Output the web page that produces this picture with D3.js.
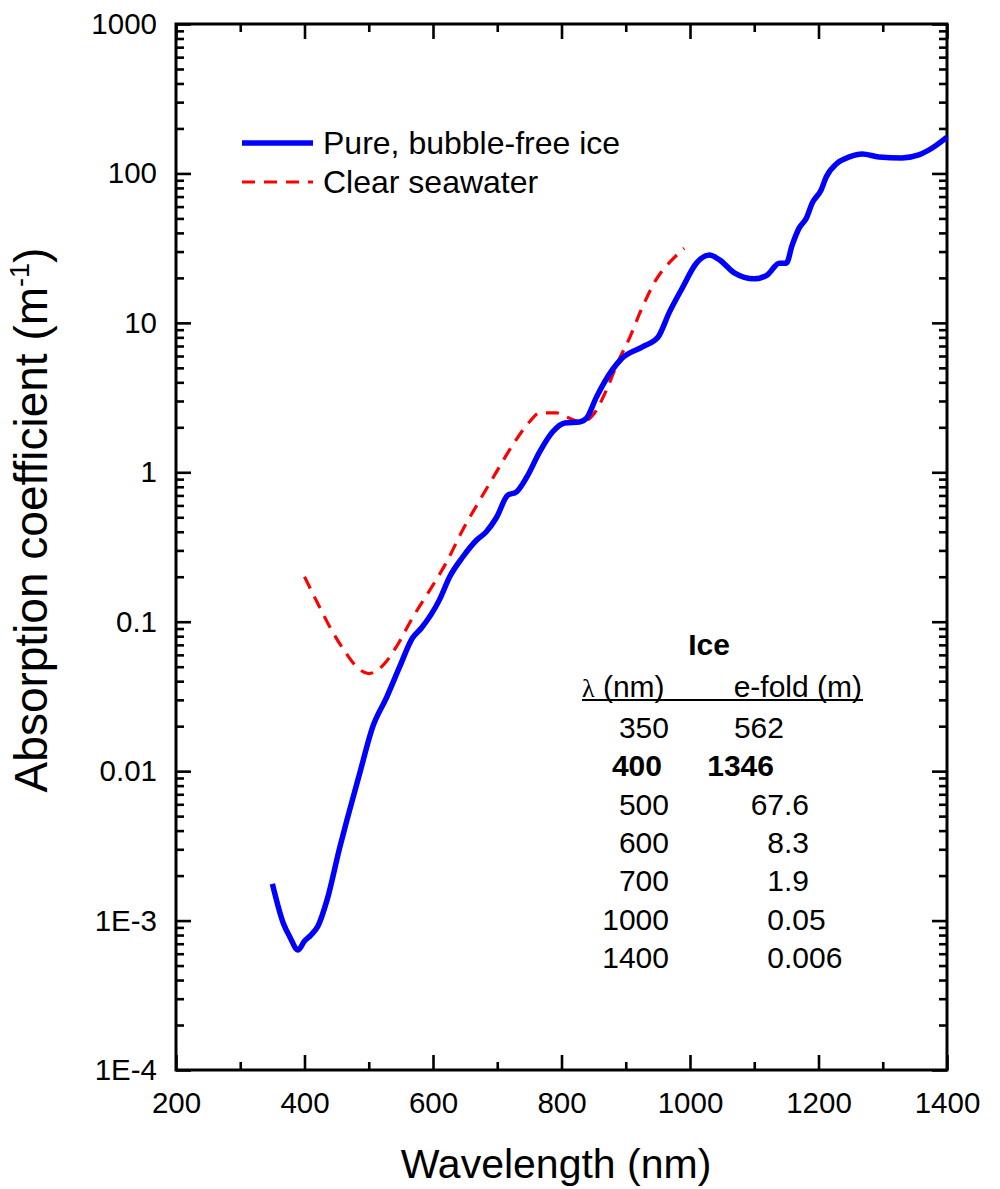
<!DOCTYPE html>
<html lang="en">
    <head>
        <meta charset="utf-8" />
        <title>Absorption coefficient of ice and seawater</title>
        <script src="https://d3js.org/d3.v7.min.js"></script>
        <style>
            html, body { margin:0; padding:0; background-color: #ffffff }
            svg { display:block }
            text { font-family: Arial, "Liberation Sans", sans-serif; fill: #000 }
        </style>
    </head>
    <body>
        <svg id="svg" width="1000" height="1189"></svg>
        <script>

            // pure bubble-free ice
            const iceWave = [350, 367, 377, 390, 400, 410, 421, 435, 455, 466, 486, 506, 528, 548, 568, 582,
                610, 626, 646, 668, 683, 699, 716, 730, 746, 766, 786, 805, 828, 839, 854, 879, 893, 926, 950,
                968, 988, 1010, 1030, 1046, 1069, 1100, 1120, 1139, 1150, 1159, 1170, 1181, 1190, 1204, 1212,
                1229, 1248, 1268, 1294, 1330, 1356, 1377, 1400];
            const iceAbs = [1.76e-3, 9.6e-4, 7.8e-4, 6.35e-4, 7.3e-4, 8.0e-4, 9.2e-4, 1.37e-3, 3.1e-3, 4.7e-3,
                9.7e-3, 0.0197, 0.0313, 0.0498, 0.0778, 0.0908,
                0.14, 0.2, 0.27, 0.352, 0.40, 0.50, 0.70, 0.74, 0.93, 1.37, 1.86, 2.14, 2.17, 2.3, 3.16, 4.84,
                5.73, 6.9, 8.0, 11.8, 17.1, 25.1, 28.4, 26.4, 21.6, 19.7, 20.9, 25.1, 25.1, 33.1, 43.2, 50.1,
                63.1, 77.4, 94.6, 117, 129, 135, 129, 127, 133, 148, 175];

            // clear seawater
            const seaWave = [400, 424, 444, 460, 481, 500, 522, 543, 568, 600, 621, 646, 670, 696, 724,
                750, 766, 792, 808, 833, 849, 870, 887, 906, 924, 947, 975, 991];
            const seaAbs = [0.2, 0.124, 0.085, 0.066, 0.05, 0.045, 0.051, 0.068, 0.106, 0.176, 0.25,
                0.41, 0.62, 0.96, 1.52, 2.17, 2.5, 2.5, 2.34, 2.17, 2.42, 3.55, 5.37, 7.94, 12.2, 19.4, 27.2,
                31.6];

            const seriesNames = ["Pure, bubble-free ice", "Clear seawater"];

            // e-fold table
            const tableTitle = "Ice";
            const tableWaveLabels = ["350", "400", "500", "600", "700", "1000", "1400"];
            const tableEfold = ["562", "1346", "67.6", "8.3", "1.9", "0.05", "0.006"];
            const boldRow = 1;

            const xTicks = [200, 400, 600, 800, 1000, 1200, 1400];
            const yTicks = [1e-4, 1e-3, 0.01, 0.1, 1, 10, 100, 1000];
            const yTickLabels = ["1E-4", "1E-3", "0.01", "0.1", "1", "10", "100", "1000"];

            let plotLeft = 176, plotRight = 947, plotTop = 24, plotBottom = 1070;

            let svg = d3.select("svg");

            let x = d3.scaleLinear()
                .domain([200, 1400])
                .range([plotLeft, plotRight]);
            let y = d3.scaleLog()
                .domain([1e-4, 1000])
                .range([plotBottom, plotTop]);

            let xMinor = d3.range(300, 1400, 200);
            let yMinor = [];
            for (let k = -4; k < 3; k++) {
                for (let m = 2; m < 10; m++) {
                    yMinor.push(m * Math.pow(10, k));
                }
            }

            function styleAxis(g) {
                g.select(".domain").remove();
                g.selectAll(".tick line").attr("stroke", "#000").attr("stroke-width", 2.6);
                g.selectAll(".tick text").style("font-size", "29.5px").style("font-family", null);
            }

            // bottom
            svg.append("g")
                .attr("transform", `translate(0,${plotBottom})`)
                .call(d3.axisBottom(x).tickValues(xTicks).tickFormat(d3.format("d")).tickSize(-15).tickPadding(22))
                .call(styleAxis);
            svg.append("g")
                .attr("transform", `translate(0,${plotBottom})`)
                .call(d3.axisBottom(x).tickValues(xMinor).tickFormat("").tickSize(-8))
                .call(styleAxis);
            // top
            svg.append("g")
                .attr("transform", `translate(0,${plotTop})`)
                .call(d3.axisTop(x).tickValues(xTicks).tickFormat("").tickSize(-15))
                .call(styleAxis);
            svg.append("g")
                .attr("transform", `translate(0,${plotTop})`)
                .call(d3.axisTop(x).tickValues(xMinor).tickFormat("").tickSize(-8))
                .call(styleAxis);
            // left
            svg.append("g")
                .attr("transform", `translate(${plotLeft},0)`)
                .call(d3.axisLeft(y).tickValues(yTicks).tickFormat((d, i) => yTickLabels[i]).tickSize(-15).tickPadding(19))
                .call(styleAxis);
            svg.append("g")
                .attr("transform", `translate(${plotLeft},0)`)
                .call(d3.axisLeft(y).tickValues(yMinor).tickFormat("").tickSize(-8))
                .call(styleAxis);
            // right
            svg.append("g")
                .attr("transform", `translate(${plotRight},0)`)
                .call(d3.axisRight(y).tickValues(yTicks).tickFormat("").tickSize(-15))
                .call(styleAxis);
            svg.append("g")
                .attr("transform", `translate(${plotRight},0)`)
                .call(d3.axisRight(y).tickValues(yMinor).tickFormat("").tickSize(-8))
                .call(styleAxis);

            // frame
            svg.append("rect")
                .attr("x", plotLeft)
                .attr("y", plotTop)
                .attr("width", plotRight - plotLeft)
                .attr("height", plotBottom - plotTop)
                .attr("fill", "none")
                .attr("stroke", "#000")
                .attr("stroke-width", 3);

            let line = d3.line()
                .curve(d3.curveMonotoneX)
                .x(d => x(d[0]))
                .y(d => y(d[1]));

            svg.append("path")
                .attr("d", line(d3.zip(seaWave, seaAbs)))
                .attr("fill", "none")
                .attr("stroke", "#ff0000")
                .attr("stroke-width", 3.2)
                .attr("stroke-dasharray", "13,9");

            svg.append("path")
                .attr("d", line(d3.zip(iceWave, iceAbs)))
                .attr("fill", "none")
                .attr("stroke", "#0000ff")
                .attr("stroke-width", 5.5)
                .attr("stroke-linejoin", "round");

            // legend
            let legend = svg.append("g");
            legend.append("line")
                .attr("x1", 242).attr("x2", 313)
                .attr("y1", 143).attr("y2", 143)
                .attr("stroke", "#0000ff")
                .attr("stroke-width", 5.5);
            legend.append("line")
                .attr("x1", 242).attr("x2", 313)
                .attr("y1", 182).attr("y2", 182)
                .attr("stroke", "#ff0000")
                .attr("stroke-width", 3.2)
                .attr("stroke-dasharray", "13,9");
            legend.selectAll(".lab")
                .data(seriesNames)
                .join("text")
                .attr("class", "lab")
                .attr("x", 323)
                .attr("y", (d, i) => 154 + i * 39)
                .style("font-size", "32px")
                .text(d => d);

            // table
            let table = svg.append("g").style("font-size", "30px");
            table.append("text")
                .attr("x", 709)
                .attr("y", 655)
                .attr("text-anchor", "middle")
                .style("font-weight", "bold")
                .text(tableTitle);

            let head = table.append("text")
                .attr("x", 582)
                .attr("y", 697);
            head.append("tspan")
                .style("font-family", "'Liberation Serif', 'Times New Roman', serif")
                .style("font-size", "26px")
                .text("λ");
            head.append("tspan").text(" (nm)");
            table.append("text")
                .attr("x", 862)
                .attr("y", 697)
                .attr("text-anchor", "end")
                .text("e-fold (m)");
            table.append("line")
                .attr("x1", 582).attr("x2", 863)
                .attr("y1", 700).attr("y2", 700)
                .attr("stroke", "#000")
                .attr("stroke-width", 2);

            let rowY = i => 738 + i * 38.3;

            table.selectAll(".wl")
                .data(tableWaveLabels)
                .join("text")
                .attr("class", "wl")
                .attr("x", (d, i) => i === boldRow ? 662 : 669)
                .attr("y", (d, i) => rowY(i))
                .attr("text-anchor", "end")
                .style("font-weight", (d, i) => i === boldRow ? "bold" : null)
                .text(d => d);

            // e-fold values lined up on the decimal point (the bold row sits a little left)
            table.selectAll(".ef-int")
                .data(tableEfold)
                .join("text")
                .attr("class", "ef-int")
                .attr("x", (d, i) => i === boldRow ? 774 : 784)
                .attr("y", (d, i) => rowY(i))
                .attr("text-anchor", "end")
                .style("font-weight", (d, i) => i === boldRow ? "bold" : null)
                .text(d => d.split(".")[0]);
            table.selectAll(".ef-frac")
                .data(tableEfold)
                .join("text")
                .attr("class", "ef-frac")
                .attr("x", 784)
                .attr("y", (d, i) => rowY(i))
                .text(d => d.indexOf(".") >= 0 ? "." + d.split(".")[1] : "");

            // axis titles
            svg.append("text")
                .attr("x", 556)
                .attr("y", 1178)
                .attr("text-anchor", "middle")
                .style("font-size", "41px")
                .text("Wavelength (nm)");

            let ytitle = svg.append("text")
                .attr("transform", "translate(47,520) rotate(-90)")
                .attr("text-anchor", "middle")
                .style("font-size", "46px");
            ytitle.append("tspan").text("Absorption coefficient (m");
            ytitle.append("tspan").attr("dy", -18).style("font-size", "27px").text("-1");
            ytitle.append("tspan").attr("dy", 18).text(")");

        </script>
    </body>
</html>
